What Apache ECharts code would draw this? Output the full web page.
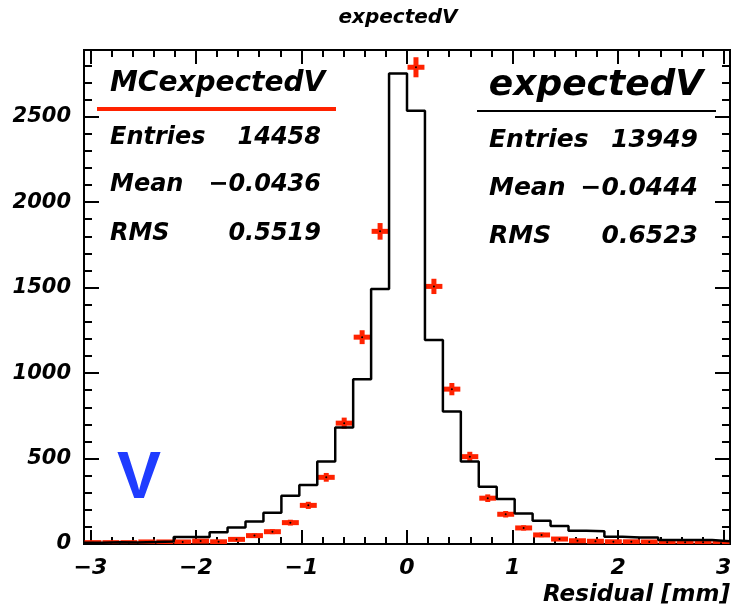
<!DOCTYPE html>
<html>
<head>
<meta charset="utf-8">
<script src="https://cdn.jsdelivr.net/npm/echarts@6/dist/echarts.min.js"></script>
<style>
html,body{margin:0;padding:0;background:#fff}
#chart{width:735px;height:612px}
</style>
</head>
<body>
<div id="chart"></div>
<script>
// binning of both histograms
const binLow = -3.06
const binWidth = 0.17

// expectedV : black outline
const dataCounts = [8,10,9,12,14,41,41,69,96,131,183,282,345,482,681,964,1492,2752,2535,1194,775,482,335,263,178,136,106,77,75,42,38,38,23,23,23,16]
// MCexpectedV : red points (bin at -0.17..0 is above the frame)
const mcCounts = [8,8,8,12,12,12,17,13,27,49,72,125,226,390,707,1210,1829,3250,2789,1507,906,511,268,174,94,53,29,19,16,13,13,12,10,10,10,4]

const xMajor = [-3,-2,-1,0,1,2,3]
const xMinor = [-3,-2.8,-2.6,-2.4,-2.2,-2,-1.8,-1.6,-1.4,-1.2,-1,-0.8,-0.6,-0.4,-0.2,0,0.2,0.4,0.6,0.8,1,1.2,1.4,1.6,1.8,2,2.2,2.4,2.6,2.8,3]
const yMajor = [0,500,1000,1500,2000,2500]
const yMinor = [100,200,300,400,600,700,800,900,1100,1200,1300,1400,1600,1700,1800,1900,2100,2200,2300,2400,2600,2700,2800]
const yMax = 2890

const mcStats = [['Entries','14458'],['Mean','\u22120.0436'],['RMS','0.5519']]
const dataStats = [['Entries','13949'],['Mean','\u22120.0444'],['RMS','0.6523']]

const FONT = 'DejaVu Sans'
const RED = '#ff2200'

let tickAxis=(pos,vals,len,labels)=>({
    type:'value', min:binLow, max:-binLow, position:pos,
    axisLine:{show:false,onZero:false}, splitLine:{show:false},
    axisTick:{customValues:vals, inside:true, length:len, lineStyle:{color:'#000',width:2}},
    axisLabel:labels ? {
        customValues:vals, margin:13, color:'#000',
        fontFamily:FONT, fontWeight:'bold', fontStyle:'italic', fontSize:22,
        formatter:v=>String(v).replace('-','\u2212')
    } : {show:false}
})

let yTickAxis=(pos,vals,len,labels)=>({
    type:'value', min:0, max:yMax, position:pos,
    axisLine:{show:false,onZero:false}, splitLine:{show:false},
    axisTick:{customValues:vals, inside:true, length:len, lineStyle:{color:'#000',width:2}},
    axisLabel:labels ? {
        customValues:vals, margin:13, color:'#000',
        fontFamily:FONT, fontWeight:'bold', fontStyle:'italic', fontSize:21,
        formatter:v=>String(v)
    } : {show:false}
})

// outline points at the left edge of each bin, plus the closing right edge
let outline=[]
for(let i=0;i<dataCounts.length;i++){
    outline.push([binLow+binWidth*i, dataCounts[i]])
}
outline.push([binLow+binWidth*dataCounts.length, dataCounts[dataCounts.length-1]])

let mcPoints=mcCounts.map((v,i)=>[binLow+binWidth*i, binLow+binWidth*(i+1), v, Math.sqrt(v)])

let txt=(x,y,text,size,align,extra)=>Object.assign({
    type:'text',
    style:{x:x, y:y, text:text, fill:'#000', align:align, verticalAlign:'middle',
        fontFamily:FONT, fontWeight:'bold', fontStyle:'italic', fontSize:size}
},extra||{})

let statRows=(stats,xl,xr,ys,size)=>{
    let out=[]
    stats.forEach((s,i)=>{
        out.push(txt(xl,ys[i],s[0],size,'left'))
        out.push(txt(xr,ys[i],s[1],size,'right'))
    })
    return out
}

let chart=echarts.init(document.getElementById('chart'),null,{renderer:'canvas'})

chart.setOption({
    animation:false,
    grid:{left:84,right:5,top:50,bottom:68,show:true,borderColor:'#000',borderWidth:2,backgroundColor:'transparent'},
    xAxis:[
        tickAxis('bottom',xMajor,14,true),
        tickAxis('bottom',xMinor,7,false),
        tickAxis('top',xMajor,14,false),
        tickAxis('top',xMinor,7,false)
    ],
    yAxis:[
        yTickAxis('left',yMajor,15,true),
        yTickAxis('left',yMinor,8,false),
        yTickAxis('right',yMajor,15,false),
        yTickAxis('right',yMinor,8,false)
    ],
    series:[
        {
            name:'expectedV', type:'line', step:'end', data:outline,
            xAxisIndex:0, yAxisIndex:0, showSymbol:false, symbol:'none',
            lineStyle:{color:'#000',width:2.5}, clip:true
        },
        {
            name:'MCexpectedV', type:'custom', data:mcPoints,
            xAxisIndex:0, yAxisIndex:0, clip:true,
            encode:{x:[0,1],y:2},
            renderItem:(params,api)=>{
                let lo=api.value(0), hi=api.value(1), v=api.value(2), err=api.value(3)
                let c=(lo+hi)/2
                let pL=api.coord([lo,v]), pR=api.coord([hi,v])
                let pT=api.coord([c,v+err]), pB=api.coord([c,v-err])
                let st={stroke:RED,lineWidth:5}
                return {type:'group',children:[
                    {type:'line',shape:{x1:pL[0]+0.5,y1:pL[1],x2:pR[0]-0.5,y2:pR[1]},style:st},
                    {type:'line',shape:{x1:pT[0],y1:pT[1]-1,x2:pB[0],y2:pB[1]+1},style:st},
                    {type:'circle',shape:{cx:(pL[0]+pR[0])/2,cy:pL[1],r:1},style:{fill:'#000'}}
                ]}
            }
        }
    ],
    graphic:[
        txt(398,18,'expectedV',20,'center'),
        // MC stats box
        txt(110,84,'MCexpectedV',28,'left'),
        {type:'line',shape:{x1:97,y1:109,x2:336,y2:109},style:{stroke:RED,lineWidth:4}},
        ...statRows(mcStats,110,321,[138,185,234],24),
        // data stats box
        txt(596,86,'expectedV',36,'center'),
        {type:'line',shape:{x1:477,y1:111,x2:716,y2:111},style:{stroke:'#000',lineWidth:2}},
        ...statRows(dataStats,489,698,[140,188,236],25),
        // axis title
        txt(730,595,'Residual [mm]',23,'right'),
        // plane label
        {type:'text',style:{x:117,y:480,text:'V',fill:'#1f3cff',align:'left',verticalAlign:'middle',
            fontFamily:'Liberation Sans',fontWeight:'bold',fontSize:66}}
    ]
})
</script>
</body>
</html>
